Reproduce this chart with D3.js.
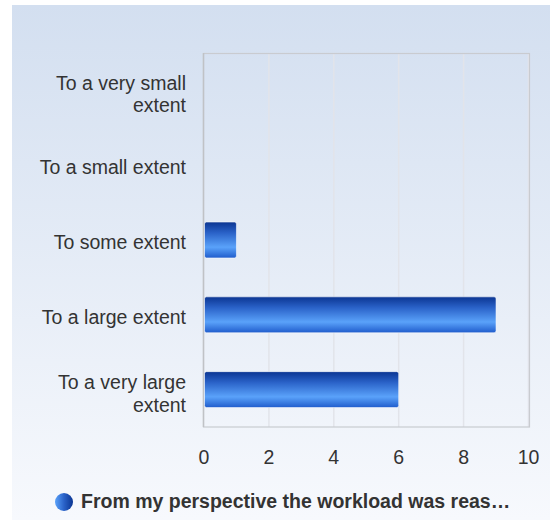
<!DOCTYPE html>
<html><head><meta charset="utf-8">
<script src="https://cdn.jsdelivr.net/npm/d3@7"></script>
<style>body{margin:0;background:#fff}svg{display:block;font-family:"Liberation Sans",Arial,sans-serif}</style>
</head><body>
<svg id="c" width="550" height="520"></svg>
<script>
const categories = ["To a very small extent","To a small extent","To some extent","To a large extent","To a very large extent"];
const labelLines = [["To a very small","extent"],["To a small extent"],["To some extent"],["To a large extent"],["To a very large","extent"]];
const values = [0,0,1,9,6];
const tickValues = [0,2,4,6,8,10];
const seriesName = "From my perspective the workload was reas\u2026";

const svg = d3.select("#c");
const defs = svg.append("defs");
const bg = defs.append("linearGradient").attr("id","bg").attr("x1",0).attr("y1",0).attr("x2",0).attr("y2",1);
bg.append("stop").attr("offset","0%").attr("stop-color","#d3dff0");
bg.append("stop").attr("offset","100%").attr("stop-color","#f7f9fd");
const bar = defs.append("linearGradient").attr("id","bar").attr("x1",0).attr("y1",0).attr("x2",0).attr("y2",1);
[["0%","#0b3592"],["30%","#2a62c8"],["70%","#5aa2fa"],["100%","#1f5ccc"]].forEach(s=>bar.append("stop").attr("offset",s[0]).attr("stop-color",s[1]));
const leg = defs.append("linearGradient").attr("id","leg").attr("x1",0).attr("y1",0).attr("x2",1).attr("y2",0);
[["0%","#5aa2fa"],["50%","#2a62c8"],["100%","#0b3592"]].forEach(s=>leg.append("stop").attr("offset",s[0]).attr("stop-color",s[1]));

svg.append("rect").attr("x",12).attr("y",5).attr("width",538).attr("height",515).attr("fill","url(#bg)");

const x = d3.scaleLinear().domain([0,10]).range([204,528.5]);
const y = d3.scaleBand().domain(categories).range([53,427]).paddingInner(0.52).paddingOuter(0.26);

// grid
svg.append("g").selectAll("line").data(tickValues.slice(1)).join("line")
  .attr("x1",d=>x(d)).attr("x2",d=>x(d)).attr("y1",53).attr("y2",427)
  .attr("stroke","#e2e4ea").attr("stroke-width",1.5);
svg.append("rect").attr("x",203.5).attr("y",53.5).attr("width",326).attr("height",373.5)
  .attr("fill","none").attr("stroke","#c9cbd0").attr("stroke-width",1.2);
svg.append("line").attr("x1",203.5).attr("x2",203.5).attr("y1",53).attr("y2",427).attr("stroke","#c0c2c6").attr("stroke-width",1.5);

// bars
svg.append("g").selectAll("rect").data(values.map((v,i)=>({v,c:categories[i]})).filter(d=>d.v>0)).join("rect")
  .attr("x",x(0)+0.5).attr("y",d=>y(d.c)).attr("width",d=>x(d.v)-x(0)-0.5).attr("height",y.bandwidth())
  .attr("rx",2).attr("fill","url(#bar)").attr("stroke","#ffffff").attr("stroke-opacity",0.7).attr("stroke-width",0.8);

// x axis labels
svg.append("g").selectAll("text").data(tickValues).join("text")
  .attr("x",d=>x(d)).attr("y",464).attr("text-anchor","middle")
  .attr("font-size",19.5).attr("fill","#333").text(d=>d);

// y labels
const yl = svg.append("g").selectAll("text").data(categories).join("text")
  .attr("text-anchor","end").attr("font-size",19.5).attr("fill","#333");
yl.each(function(c,i){
  const lines = labelLines[i];
  const cy = y(c)+y.bandwidth()/2;
  const t = d3.select(this);
  lines.forEach((l,j)=>{
    const by = lines.length===1 ? cy+9 : cy-0.5+j*22.4;
    t.append("tspan").attr("x",186).attr("y",by).text(l);
  });
});

// legend
svg.append("circle").attr("cx",64).attr("cy",502).attr("r",9).attr("fill","url(#leg)");
svg.append("text").attr("x",81).attr("y",508).attr("font-size",19.5).attr("font-weight","bold").attr("fill","#333").text(seriesName);
</script>
</body></html>
